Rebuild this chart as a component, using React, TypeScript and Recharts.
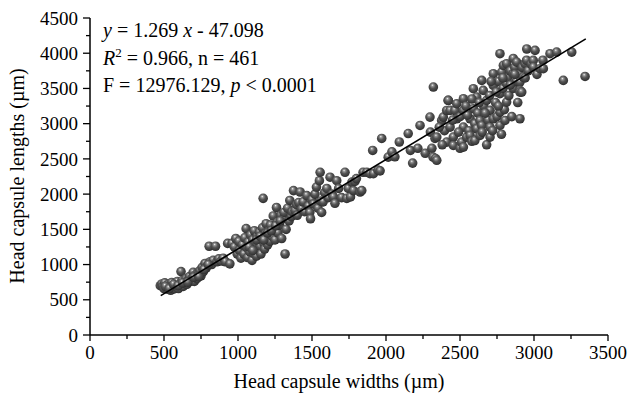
import { ScatterChart, Scatter, XAxis, YAxis } from "recharts";

type Pair = [number, number];

// head capsule width, length (µm)
const smallHeads: Pair[] = [
  [475, 700], [485, 725], [492, 690], [500, 660], [505, 740], [515, 700],
  [522, 650], [530, 720], [538, 680], [545, 635], [552, 745], [560, 700],
  [568, 655], [575, 730], [582, 690], [590, 760], [598, 660], [605, 720],
  [615, 900], [622, 770], [630, 690], [640, 740], [648, 800], [655, 720],
  [662, 780], [672, 830], [680, 760], [690, 810], [697, 890], [705, 760],
  [712, 850], [722, 800], [730, 880], [742, 915], [750, 840], [758, 960],
  [766, 900], [777, 1015], [785, 950], [795, 990], [805, 1260], [812, 1040],
  [822, 1000], [832, 1060], [848, 1260], [858, 1040], [870, 1080], [885, 1050],
  [900, 1090], [915, 1040], [930, 1300], [945, 1010],
  [510, 690], [535, 660], [565, 720], [595, 700], [625, 740], [660, 750],
  [700, 820], [735, 830], [770, 930], [800, 1000],
];

const mediumHeads: Pair[] = [
  [960, 1300], [975, 1250], [985, 1370], [995, 1150], [1005, 1330], [1010, 1200],
  [1020, 1090], [1030, 1280], [1040, 1150], [1045, 1380], [1055, 1510], [1060, 1240],
  [1065, 1100], [1070, 1320], [1080, 1180], [1085, 1420], [1090, 1260], [1095, 1060],
  [1100, 1350], [1105, 1160], [1110, 1480], [1115, 1230], [1120, 1300], [1125, 1120],
  [1130, 1400], [1135, 1200], [1140, 1340], [1145, 1460], [1150, 1260], [1155, 1150],
  [1160, 1380], [1165, 1520], [1170, 1940], [1175, 1300], [1180, 1220], [1185, 1440],
  [1190, 1580], [1195, 1350], [1200, 1280], [1210, 1480], [1215, 1330], [1220, 1560],
  [1230, 1400], [1238, 1690], [1240, 1500], [1250, 1350], [1260, 1810], [1265, 1600],
  [1270, 1450], [1280, 1560], [1290, 1700], [1295, 1370], [1305, 1650], [1310, 1740],
  [1318, 1150], [1325, 1500], [1335, 1800], [1345, 1620], [1350, 1910], [1360, 1680],
  [1365, 1750], [1375, 2050], [1385, 1770], [1395, 1850], [1400, 1700],
  [1075, 1250], [1100, 1200], [1125, 1350], [1150, 1400], [1175, 1350], [1200, 1450],
  [1225, 1480], [1255, 1550], [1285, 1620],
];

const largeHeads: Pair[] = [
  [1410, 1880], [1420, 2030], [1430, 1790], [1440, 1890], [1450, 1750], [1465, 1980],
  [1475, 1830], [1485, 1740], [1490, 1650], [1500, 1920], [1510, 1860], [1520, 2000],
  [1530, 2100], [1540, 1800], [1550, 2190], [1555, 2310], [1560, 1900], [1565, 1740],
  [1575, 1890], [1585, 2020], [1600, 2080], [1610, 1950], [1622, 2240], [1635, 2000],
  [1645, 1960], [1655, 1870], [1667, 2190], [1680, 2080], [1700, 1950], [1723, 2310],
  [1735, 1940], [1745, 2080], [1760, 1960], [1770, 2170], [1780, 2050], [1790, 2180],
  [1800, 2220], [1825, 2030], [1836, 2050], [1845, 2310], [1870, 2310], [1892, 2290],
  [1910, 2620], [1915, 2290], [1946, 2340], [1960, 2330], [1971, 2790],
];

const lateHeads: Pair[] = [
  [2015, 2525], [2040, 2600], [2060, 2530], [2090, 2740], [2150, 2860], [2165, 2620],
  [2180, 2440], [2215, 2650], [2230, 2975], [2265, 2580], [2297, 3093], [2300, 2880],
  [2310, 2650], [2320, 3520], [2318, 2525], [2331, 2790], [2335, 2505], [2343, 2480],
  [2343, 2809], [2376, 3046], [2387, 3093], [2395, 2900], [2410, 2738], [2410, 3187],
  [2420, 3330], [2360, 2950], [2380, 2700],
];

const finalHeads: Pair[] = [
  [2421, 3330], [2433, 3188], [2433, 2951], [2455, 2809], [2455, 2691], [2466, 3187],
  [2478, 3283], [2478, 3070], [2500, 3100], [2500, 2650], [2511, 2738], [2523, 3354],
  [2523, 3188], [2523, 2951], [2523, 2667], [2540, 3250], [2545, 2809], [2560, 2900],
  [2568, 3070], [2568, 2833], [2580, 2750], [2590, 3496], [2590, 3212], [2600, 3000],
  [2600, 2760], [2613, 3377], [2613, 2928], [2620, 3150], [2635, 3046], [2635, 2833],
  [2647, 3614], [2647, 2975], [2650, 2880], [2657, 3472], [2660, 3250], [2680, 3330],
  [2680, 2700], [2690, 3050], [2700, 3400], [2703, 3188], [2703, 2951], [2703, 2809],
  [2720, 2900], [2725, 3709], [2725, 3543], [2725, 3070], [2740, 3300], [2750, 3100],
  [2760, 3600], [2770, 3993], [2770, 3425], [2770, 3164], [2770, 2975], [2780, 2850],
  [2782, 3732], [2790, 3500], [2793, 3827], [2800, 3200], [2804, 3046], [2815, 3851],
  [2815, 3567], [2815, 3306], [2820, 3650], [2830, 3400], [2840, 3750], [2850, 3100],
  [2860, 3926], [2860, 3709], [2860, 3500], [2870, 3800], [2880, 3600], [2883, 3874],
  [2890, 3300], [2900, 3700], [2905, 3590], [2905, 3472], [2905, 3448], [2905, 3070],
  [2917, 3448], [2920, 3800], [2928, 3661], [2939, 3851], [2940, 3650], [2950, 3900],
  [2951, 4060], [2960, 3750], [2980, 3850], [2995, 3898], [2996, 3803],
  [2450, 3050], [2490, 2880], [2550, 3120], [2580, 3350], [2630, 3300], [2670, 3150],
  [2710, 3600], [2745, 3450], [2760, 3250], [2790, 3650], [2840, 3550], [2870, 3700],
];

const outerHeads: Pair[] = [
  [3007, 4040], [3020, 3700], [3041, 3780], [3060, 3900], [3063, 3780], [3108, 3993],
  [3153, 4016], [3198, 3614], [3255, 4016], [3345, 3670],
];

const xTicks = [0, 250, 500, 750, 1000, 1250, 1500, 1750, 2000, 2250, 2500, 2750, 3000, 3250, 3500];
const yTicks = [0, 250, 500, 750, 1000, 1250, 1500, 1750, 2000, 2250, 2500, 2750, 3000, 3250, 3500, 3750, 4000, 4250, 4500];

// fitted line as printed on the figure
const fitSlope = 1.269;
const fitIntercept = -47.098;
const fitFrom = 478;
const fitTo = 3350;

const points = [...smallHeads, ...mediumHeads, ...largeHeads, ...lateHeads, ...finalHeads, ...outerHeads].map(
  ([w, l]) => ({ w, l })
);
const fitLine = [fitFrom, fitTo].map((w) => ({ w, l: fitSlope * w + fitIntercept }));

const font = "'Liberation Serif', 'Times New Roman', serif";

const XTick = (props: any) => {
  const { x, y, payload } = props;
  const major = payload.value % 500 === 0;
  return (
    <g>
      <line x1={x} x2={x} y1={y} y2={y + (major ? 6 : 4)} stroke="#000" strokeWidth={1.3} />
      {major && (
        <text x={x} y={y + 24} textAnchor="middle" fontFamily={font} fontSize={19} fill="#000">
          {payload.value}
        </text>
      )}
    </g>
  );
};

const YTick = (props: any) => {
  const { x, y, payload } = props;
  const major = payload.value % 500 === 0;
  return (
    <g>
      <line x1={x} x2={x - (major ? 7 : 4)} y1={y} y2={y} stroke="#000" strokeWidth={1.3} />
      {major && (
        <text x={x - 12} y={y} dy="0.35em" textAnchor="end" fontFamily={font} fontSize={19} fill="#000">
          {payload.value}
        </text>
      )}
    </g>
  );
};

const Ball = (props: any) => <circle cx={props.cx} cy={props.cy} r={4.8} fill="url(#ball)" />;

export default function App() {
  return (
    <div style={{ position: "absolute", left: 0, top: 0, width: 627, height: 393, background: "#fff" }}>
      <ScatterChart width={627} height={393} margin={{ top: 18, right: 19, bottom: 28, left: 30 }}>
        <defs>
          <radialGradient id="ball" cx="0.45" cy="0.4" r="0.6" fx="0.4" fy="0.3">
            <stop offset="0%" stopColor="#f4f4f4" />
            <stop offset="20%" stopColor="#939393" />
            <stop offset="50%" stopColor="#545454" />
            <stop offset="85%" stopColor="#3a3a3a" />
            <stop offset="100%" stopColor="#2a2a2a" />
          </radialGradient>
        </defs>
        <XAxis
          type="number"
          dataKey="w"
          domain={[0, 3500]}
          ticks={xTicks}
          interval={0}
          height={30}
          tickSize={0}
          tickMargin={0}
          tickLine={false}
          axisLine={{ stroke: "#000", strokeWidth: 1.5 }}
          tick={XTick}
        />
        <YAxis
          type="number"
          dataKey="l"
          domain={[0, 4500]}
          ticks={yTicks}
          interval={0}
          width={60}
          tickSize={0}
          tickMargin={0}
          tickLine={false}
          axisLine={{ stroke: "#000", strokeWidth: 1.5 }}
          tick={YTick}
        />
        <Scatter data={points} shape={Ball} isAnimationActive={false} />
        <Scatter
          data={fitLine}
          line={{ stroke: "#000", strokeWidth: 1.6 }}
          shape={() => <g />}
          isAnimationActive={false}
        />
      </ScatterChart>
      <svg
        width={627}
        height={393}
        style={{ position: "absolute", left: 0, top: 0, pointerEvents: "none" }}
        fontFamily={font}
        fill="#000"
      >
        <text x={103} y={37} fontSize={20}>
          <tspan fontStyle="italic">y</tspan> = 1.269 <tspan fontStyle="italic">x</tspan> - 47.098
        </text>
        <text x={103} y={65} fontSize={20}>
          <tspan fontStyle="italic">R</tspan>
          <tspan dy={-8} fontSize={13}>2</tspan>
          <tspan dy={8}> = 0.966, n = 461</tspan>
        </text>
        <text x={103} y={92} fontSize={20}>
          F = 12976.129, <tspan fontStyle="italic">p</tspan> {"<"} 0.0001
        </text>
        <text x={339} y={388} fontSize={20} textAnchor="middle">
          Head capsule widths (µm)
        </text>
        <text x={24} y={176} fontSize={20} textAnchor="middle" transform="rotate(-90 24 176)">
          Head capsule lengths (µm)
        </text>
      </svg>
    </div>
  );
}
